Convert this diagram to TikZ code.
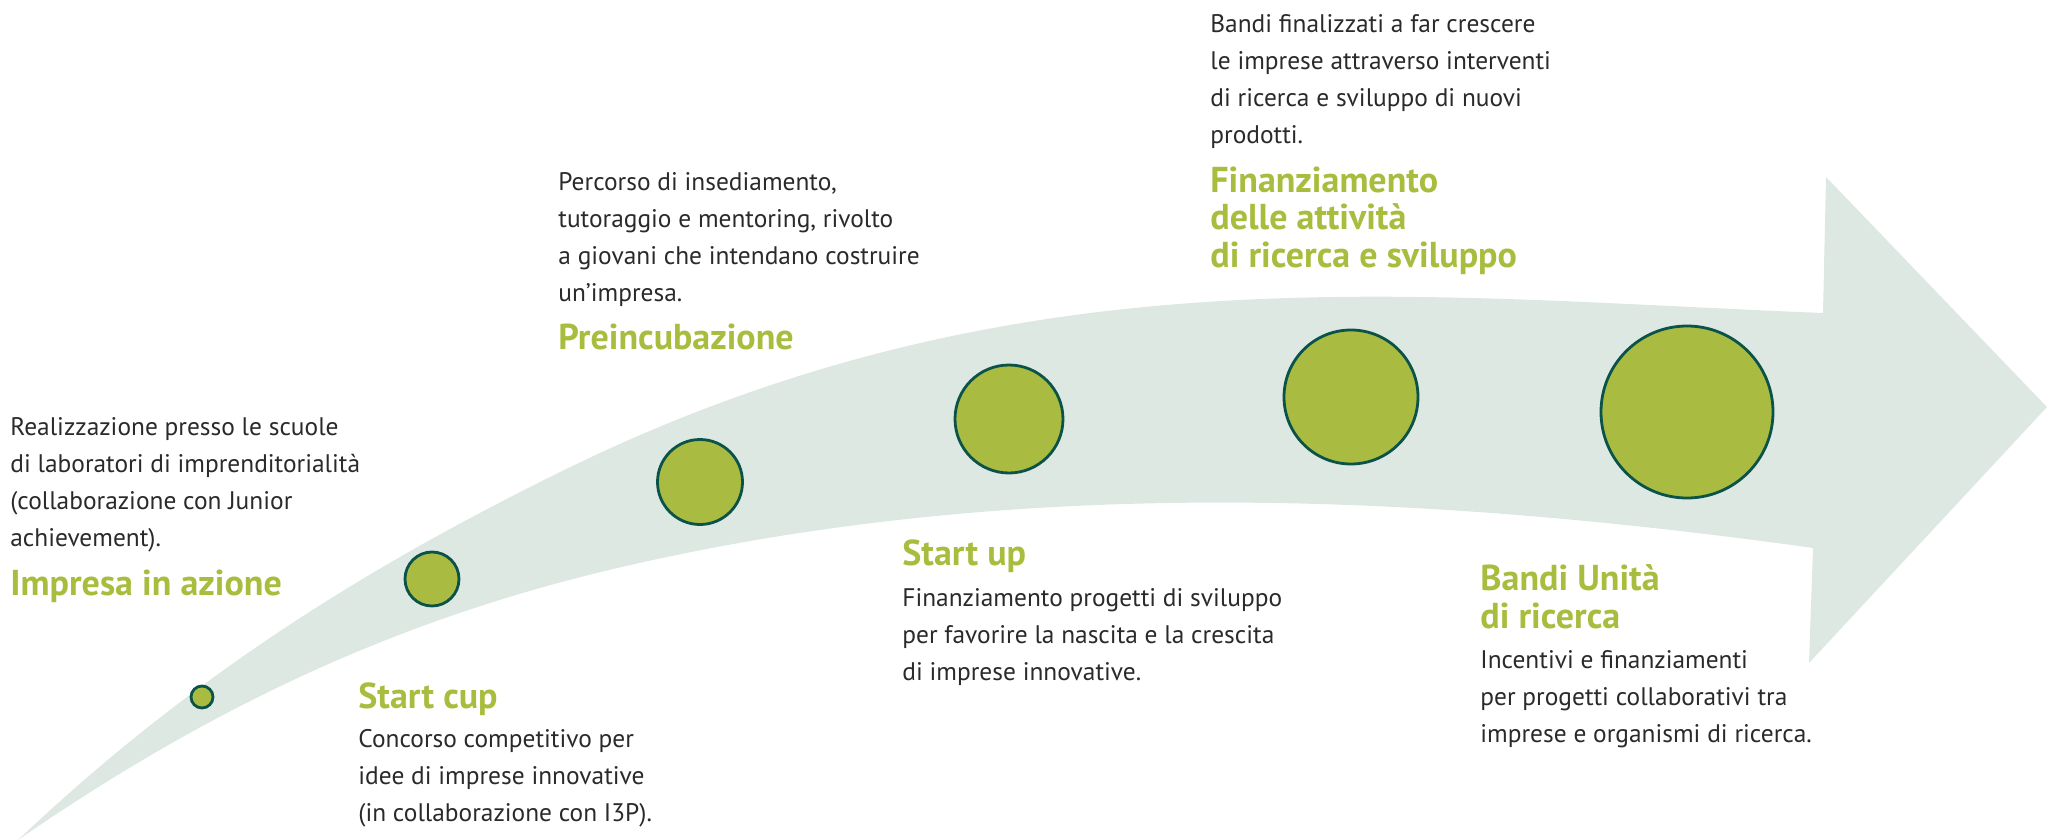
\documentclass[tikz,border=0pt]{standalone}
\usepackage{fontspec}
\setmainfont{PT Sans}
\definecolor{bandGrey}{HTML}{DEE8E3}
\definecolor{dotGreen}{HTML}{A9BC41}
\definecolor{dotEdge}{HTML}{0B5249}
\definecolor{titleGreen}{HTML}{A8BD3E}
\definecolor{bodyGrey}{HTML}{2A2A2A}
\tikzset{
  dot/.style={circle, draw=dotEdge, fill=dotGreen, line width=1.4pt, inner sep=0pt},
  stage/.style={anchor=base west, align=left, inner sep=0pt, text=titleGreen,
    font=\fontsize{18}{18.75}\selectfont\bfseries},
  info/.style={anchor=base west, align=left, inner sep=0pt, text=bodyGrey,
    font=\fontsize{12.7}{18.5}\selectfont}
}

\begin{document}
\begin{tikzpicture}[x=0.5pt,y=-0.5pt]
\useasboundingbox (0,0) rectangle (2047,840);
% the band (base anchor of a text block = its last line)
\fill[bandGrey] (18,840) .. controls (250,680) and (451,602) .. (667,557)
  .. controls (1047,477) and (1433,495) .. (1813,548)
  -- (1809,663) -- (2047,407) -- (1826,177) -- (1823,313)
  .. controls (1399,296) and (1010,247) .. (550,477)
  .. controls (373,565) and (195,672) .. (18,840) -- cycle;
% dots
\node[dot, minimum size=11pt] (d1) at (202,697) {};
\node[dot, minimum size=27pt] (d2) at (432,579) {};
\node[dot, minimum size=42.5pt] (d3) at (700,482) {};
\node[dot, minimum size=54pt] (d4) at (1009,419) {};
\node[dot, minimum size=67pt] (d5) at (1351,397) {};
\node[dot, minimum size=86pt] (d6) at (1687,412) {};
% texts
\node[info] (impresaText) at (10,546) {Realizzazione presso le scuole\\di laboratori di imprenditorialità\\(collaborazione con Junior\\achievement).};
\node[stage] (impresaTitle) at (10,595) {Impresa in azione};
\node[stage] (startcupTitle) at (358,708) {Start cup};
\node[info] (startcupText) at (358,821) {Concorso competitivo per\\idee di imprese innovative\\(in collaborazione con I3P).};
\node[info] (preincText) at (558,301) {Percorso di insediamento,\\tutoraggio e mentoring, rivolto\\a giovani che intendano costruire\\un’impresa.};
\node[stage] (preincTitle) at (558,349) {Preincubazione};
\node[info] (ricercaText) at (1210,144) {Bandi finalizzati a far crescere\\le imprese attraverso interventi\\di ricerca e sviluppo di nuovi\\prodotti.};
\node[stage] (ricercaTitle) at (1210,267) {Finanziamento\\delle attività\\di ricerca e sviluppo};
\node[stage] (startupTitle) at (902,565) {Start up};
\node[info] (startupText) at (902,680) {Finanziamento progetti di sviluppo\\per favorire la nascita e la crescita\\di imprese innovative.};
\node[stage] (bandiTitle) at (1480,628) {Bandi Unità\\di ricerca};
\node[info] (bandiText) at (1480,742) {Incentivi e finanziamenti\\per progetti collaborativi tra\\imprese e organismi di ricerca.};
\end{tikzpicture}
\end{document}
